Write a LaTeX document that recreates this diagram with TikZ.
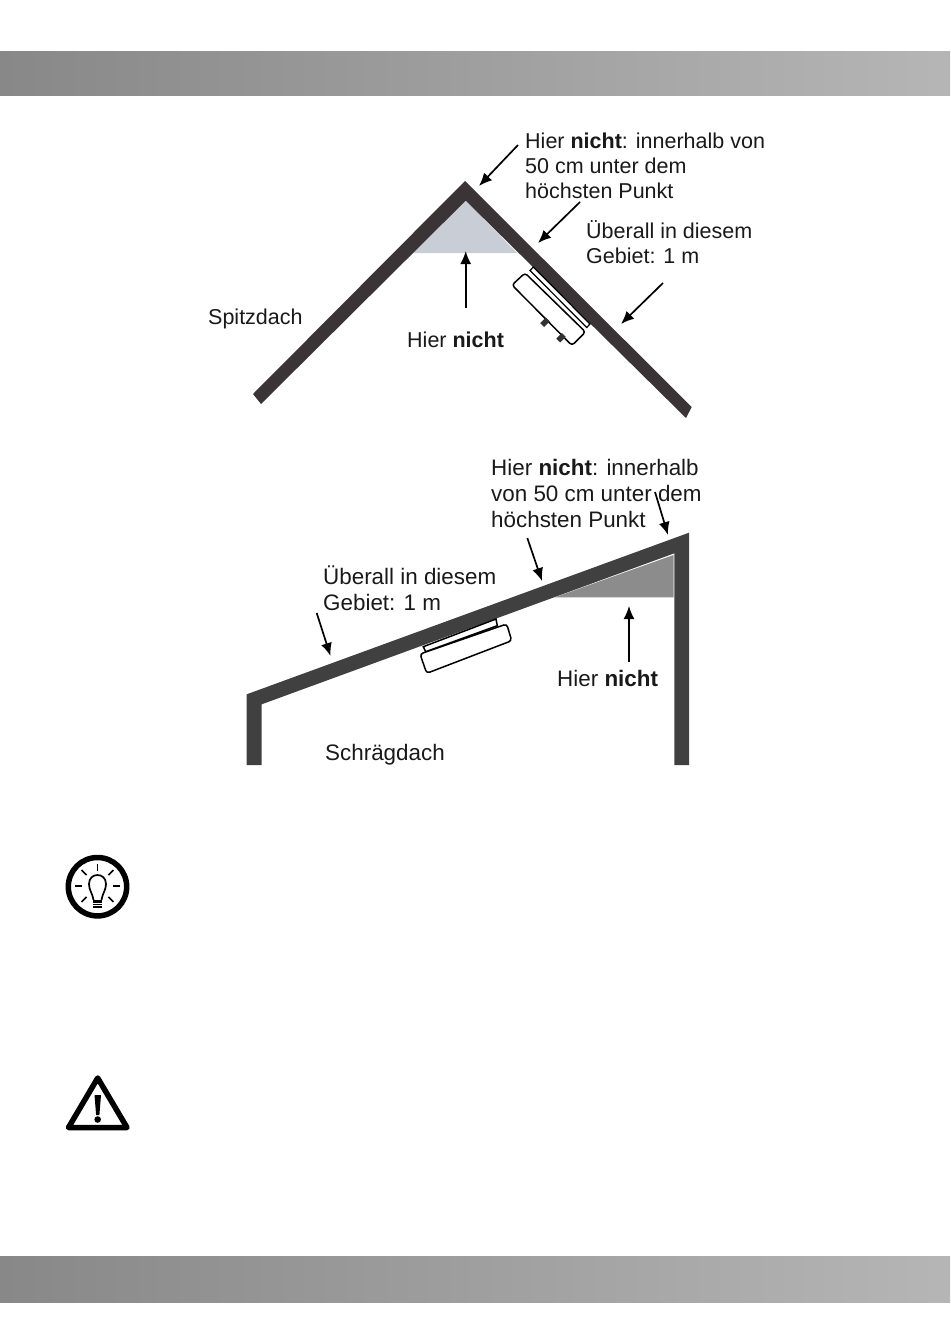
\documentclass[tikz,border=0pt]{standalone}
\usepackage{fontspec}
\setmainfont{Liberation Sans}
\usetikzlibrary{arrows.meta}

\definecolor{peakroof}{HTML}{3A3436}
\definecolor{peakzone}{HTML}{C9CDD6}
\pgfdeclarehorizontalshading{barshade}{100bp}{color(0bp)=(black!51); color(13bp)=(black!51); color(80bp)=(black!27); color(100bp)=(black!26)}

\begin{document}
\begin{tikzpicture}[x=1pt, y=-1pt,
            % Styles
            bar/.style={shading=barshade, draw=none},
            roofpeak/.style={fill=peakroof, draw=none},
            roofslope/.style={fill=black!75, draw=none},
            device/.style={draw=black, line width=1.5pt, fill=white, rounded corners=3pt},
            label/.style={anchor=north west, inner sep=0pt, align=left, font=\fontsize{21.5}{25}\selectfont, text=black!90},
            biglabel/.style={label, font=\fontsize{22.4}{26}\selectfont},
            pointer/.style={draw, -{Latex[length=13pt,width=11pt]}, line width=1.7pt},
            icon/.style={draw=black, line width=5.5pt}
        ]
        \useasboundingbox (0,0) rectangle (950,1343);

        % Bars
        \fill [bar] (0,51.5) rectangle (950,96);
        \fill [bar] (0,1256) rectangle (950,1302);

        % Spitzdach
        \fill [peakzone] (413,253) -- (465.7,200.7) -- (517,253) -- cycle;
        \fill [roofpeak] (253,394) -- (465,181) -- (691.7,407) -- (686,418) -- (465.7,200.7) -- (261,404) -- cycle;
        \draw [device] (512,285) -- (525,273) -- (585.5,332) -- (572,345.5) -- cycle;
        \draw [device, rounded corners=0pt, line width=1.2pt] (530,270.5) -- (533.3,267) -- (590,324) -- (586.7,327.5) -- cycle;
        \fill [black!80, rotate around={45:(545,322.3)}] (541,319.5) rectangle (549,325);
        \fill [black!80, rotate around={45:(561,337.7)}] (557,335) rectangle (565,340.5);

        % Schraegdach
        \fill [black!45] (555,597.3) -- (673.5,555) -- (673.5,597.3) -- cycle;
        \fill [roofslope] (246.7,765) -- (246.7,694.3) -- (689,532.7) -- (689,765) -- (674.3,765) -- (674.3,553.3) -- (261.7,704.3) -- (261.7,765) -- cycle;
        \draw [device, rounded corners=0pt] (423.3,646.7) -- (496,619) -- (497.3,625.7) -- (425.7,651.7) -- cycle;
        \draw [device] (420,654) -- (506.7,624) -- (511.7,640.7) -- (426.7,673.3) -- cycle;

        % Labels
        \node [label] (peaktop) at (525,133) {Hier \textbf{nicht}: innerhalb von\\50 cm unter dem\\höchsten Punkt};
        \node [label] (peakarea) at (586,220) {Überall in diesem\\Gebiet: 1 m};
        \node [label] (peakname) at (208,308.5) {Spitzdach};
        \node [label] (peakno) at (407,332) {Hier \textbf{nicht}};
        \node [biglabel] (slopetop) at (491,459) {Hier \textbf{nicht}: innerhalb\\von 50 cm unter dem\\höchsten Punkt};
        \node [biglabel] (slopearea) at (323,566) {Überall in diesem\\Gebiet: 1 m};
        \node [biglabel] (slopeno) at (557,670) {Hier \textbf{nicht}};
        \node [biglabel] (slopename) at (325,744) {Schrägdach};

        % Pointers
        \coordinate (a1) at (518,145); \coordinate (a2) at (479,186);
        \coordinate (b1) at (580,202); \coordinate (b2) at (538,243);
        \coordinate (c1) at (663,283); \coordinate (c2) at (621,324);
        \coordinate (d1) at (465.7,308); \coordinate (d2) at (465.7,251);
        \coordinate (e1) at (655,492); \coordinate (e2) at (668,535);
        \coordinate (f1) at (527.3,538); \coordinate (f2) at (542,581);
        \coordinate (g1) at (316.7,613); \coordinate (g2) at (330.5,656);
        \coordinate (h1) at (629,662); \coordinate (h2) at (629,606);
        \foreach \from/\to in {a1/a2, b1/b2, c1/c2, d1/d2, e1/e2, f1/f2, g1/g2, h1/h2}
            \path [pointer] (\from) -- (\to);

        % Bulb icon
        \draw [icon] (97.5,886.7) circle (29.2);
        \foreach \ang in {-90,-45,0,45,135,180,225}
            \draw [line width=1.7pt] (97.5,886) ++(\ang:15.5) -- ++(\ang:7);
        \draw [line width=1.7pt] (93.5,900) .. controls (92,892) and (89,890) .. (89,884) .. controls (89,872) and (106,872) .. (106,884) .. controls (106,890) and (103,892) .. (101.5,900);
        \fill (93,900) rectangle (102,908);
        \draw [white, line width=0.6pt] (93,903) -- (102,903) (93,905.5) -- (102,905.5);

        % Warning icon
        \draw [icon, line join=round] (97.7,1078) -- (68.5,1127.5) -- (127,1127.5) -- cycle;
        \fill (94.5,1095) -- (101,1095) -- (99.4,1115) -- (96.1,1115) -- cycle;
        \fill (97.7,1119.5) circle (3.3);
    \end{tikzpicture}
\end{document}
